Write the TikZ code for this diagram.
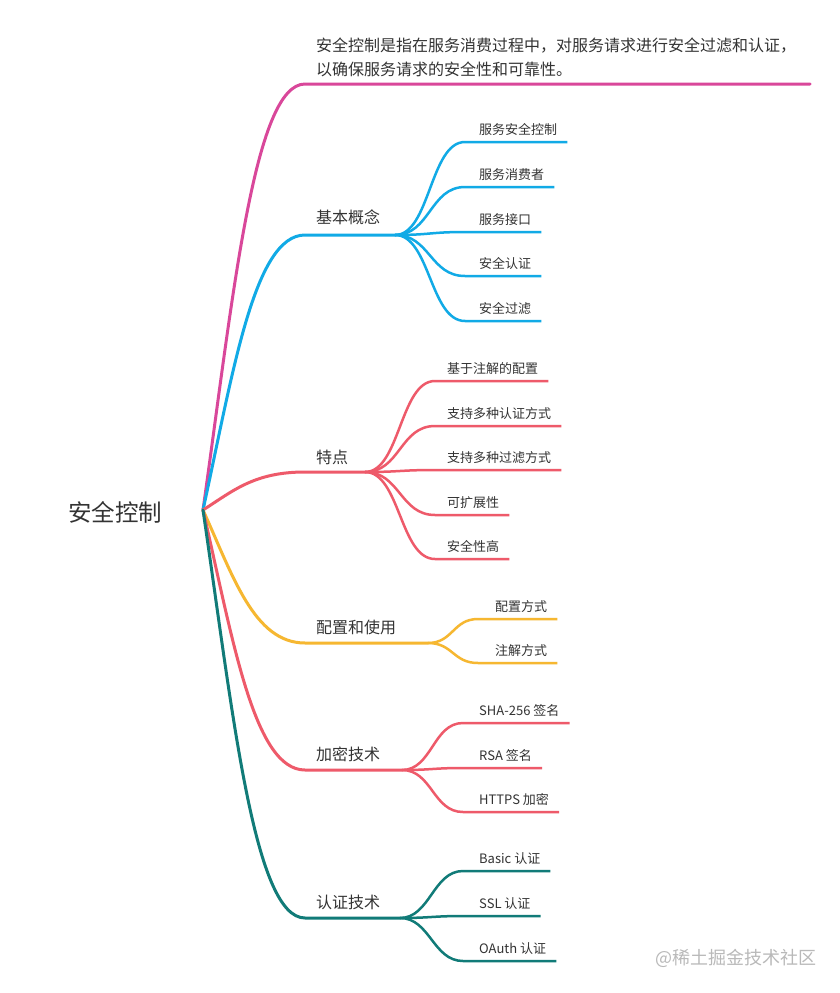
\documentclass[tikz,border=0pt]{standalone}
\usepackage{fontspec}
\setmainfont{Noto Sans CJK SC}
\usetikzlibrary{calc}
\definecolor{brpink}{RGB}{217,71,154}
\definecolor{brblue}{RGB}{17,170,230}
\definecolor{brred}{RGB}{238,90,106}
\definecolor{brgold}{RGB}{246,183,49}
\definecolor{brteal}{RGB}{17,123,120}
\definecolor{txtgray}{RGB}{51,51,51}
\tikzset{
  rootlab/.style={font=\fontsize{23.5}{28}\selectfont, text=txtgray, inner sep=0pt, anchor=base west},
  mainlab/.style={font=\fontsize{16}{19}\selectfont, text=txtgray, inner sep=0pt, anchor=base west},
  leaflab/.style={font=\fontsize{13}{16}\selectfont, text=txtgray, inner xsep=10pt, inner ysep=0pt, anchor=base west},
  mainbr/.style={line width=3pt, line cap=round},
  leafbr/.style={line width=2.5pt},
  wmark/.style={font=\fontsize{18}{20}\selectfont, text=gray!55, inner sep=0pt, anchor=base west},
}
\begin{document}
\begin{tikzpicture}[x=1pt, y=-1pt]
    \useasboundingbox (0,0) rectangle (840,993);
    \fill[white] (0,0) rectangle (840,993);
    \coordinate (rj) at (203,510);
    \node[rootlab] (root) at (68,521) {安全控制};
    % definition
    \coordinate (d-s) at (305,84);
    \coordinate (d-e) at (810,84);
    \draw[mainbr, brpink] (rj) .. controls +(30,-213) and +(-51,0) .. (d-s) -- (d-e);
    \node[mainlab] (desc-a) at (316,51) {安全控制是指在服务消费过程中，对服务请求进行安全过滤和认证，};
    \node[mainlab] (desc-b) at (316,75) {以确保服务请求的安全性和可靠性。};
    % basic concepts
    \coordinate (b1-s) at (305,235);
    \coordinate (b1-j) at (395,235);
    \draw[mainbr, brblue] (rj) .. controls +(30,-137) and +(-51,0) .. (b1-s) -- (b1-j);
    \node[mainlab] (b1) at (316,223) {基本概念};
    \foreach \i/\y/\t in {1/142/服务安全控制, 2/187/服务消费者, 3/232/服务接口, 4/276/安全认证, 5/321/安全过滤}{
      \coordinate (b1-l\i) at (465,\y);
      \node[leaflab] (b1-t\i) at ([xshift=4pt,yshift=8pt]b1-l\i) {\t};
      \draw[leafbr, brblue] (b1-j) .. controls +(35,0) and +(-35,0) .. (b1-l\i) -- (b1-l\i -| b1-t\i.east);
    }
    % features
    \coordinate (b2-s) at (305,472);
    \coordinate (b2-j) at (365,472);
    \draw[mainbr, brred] (rj) .. controls +(30,-19) and +(-51,0) .. (b2-s) -- (b2-j);
    \node[mainlab] (b2) at (316,463) {特点};
    \foreach \i/\y/\t in {1/381/基于注解的配置, 2/426/支持多种认证方式, 3/470/支持多种过滤方式, 4/515/可扩展性, 5/559/安全性高}{
      \coordinate (b2-l\i) at (435,\y);
      \node[leaflab] (b2-t\i) at ([xshift=2pt,yshift=8pt]b2-l\i) {\t};
      \draw[leafbr, brred] (b2-j) .. controls +(35,0) and +(-35,0) .. (b2-l\i) -- (b2-l\i -| b2-t\i.east);
    }
    % configuration
    \coordinate (b3-s) at (305,643);
    \coordinate (b3-j) at (428,643);
    \draw[mainbr, brgold] (rj) .. controls +(30,66) and +(-51,0) .. (b3-s) -- (b3-j);
    \node[mainlab] (b3) at (316,633) {配置和使用};
    \foreach \i/\y/\t in {1/619/配置方式, 2/663/注解方式}{
      \coordinate (b3-l\i) at (478,\y);
      \node[leaflab] (b3-t\i) at ([xshift=7pt,yshift=8pt]b3-l\i) {\t};
      \draw[leafbr, brgold] (b3-j) .. controls +(25,0) and +(-25,0) .. (b3-l\i) -- (b3-l\i -| b3-t\i.east);
    }
    % encryption
    \coordinate (b4-s) at (305,770);
    \coordinate (b4-j) at (402,770);
    \draw[mainbr, brred] (rj) .. controls +(30,130) and +(-51,0) .. (b4-s) -- (b4-j);
    \node[mainlab] (b4) at (316,760) {加密技术};
    \foreach \i/\y/\t in {1/723/SHA-256 签名, 2/768/RSA 签名, 3/812/HTTPS 加密}{
      \coordinate (b4-l\i) at (463,\y);
      \node[leaflab] (b4-t\i) at ([xshift=6pt,yshift=8pt]b4-l\i) {\t};
      \draw[leafbr, brred] (b4-j) .. controls +(30,0) and +(-30,0) .. (b4-l\i) -- (b4-l\i -| b4-t\i.east);
    }
    % authentication
    \coordinate (b5-s) at (305,918);
    \coordinate (b5-j) at (400,918);
    \draw[mainbr, brteal] (rj) .. controls +(30,204) and +(-51,0) .. (b5-s) -- (b5-j);
    \node[mainlab] (b5) at (316,908) {认证技术};
    \foreach \i/\y/\t in {1/871/Basic 认证, 2/916/SSL 认证, 3/961/OAuth 认证}{
      \coordinate (b5-l\i) at (463,\y);
      \node[leaflab] (b5-t\i) at ([xshift=6pt,yshift=8pt]b5-l\i) {\t};
      \draw[leafbr, brteal] (b5-j) .. controls +(30,0) and +(-30,0) .. (b5-l\i) -- (b5-l\i -| b5-t\i.east);
    }
    \node[wmark] (wm) at (655,964) {@稀土掘金技术社区};
  \end{tikzpicture}
\end{document}
